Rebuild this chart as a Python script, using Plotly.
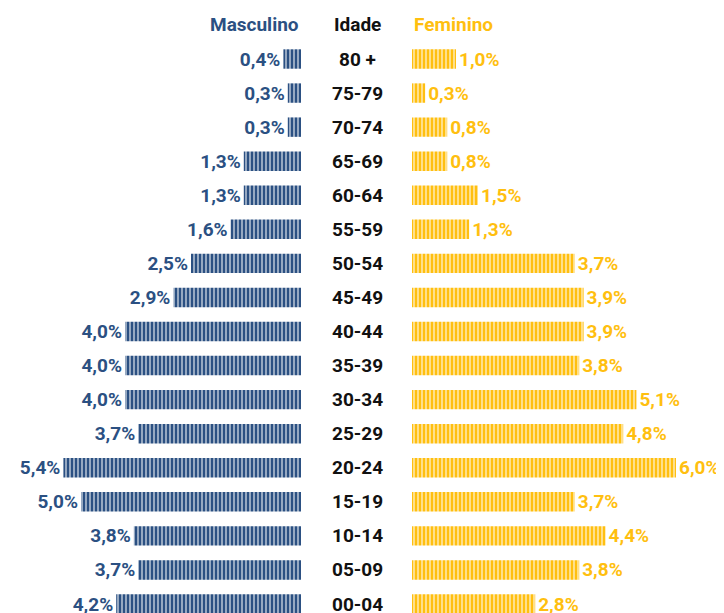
import plotly.graph_objects as go

ages = ["80 +", "75-79", "70-74", "65-69", "60-64", "55-59", "50-54", "45-49",
        "40-44", "35-39", "30-34", "25-29", "20-24", "15-19", "10-14", "05-09", "00-04"]
masculino = [0.4, 0.3, 0.3, 1.3, 1.3, 1.6, 2.5, 2.9, 4.0, 4.0, 4.0, 3.7, 5.4, 5.0, 3.8, 3.7, 4.2]
feminino = [1.0, 0.3, 0.8, 0.8, 1.5, 1.3, 3.7, 3.9, 3.9, 3.8, 5.1, 4.8, 6.0, 3.7, 4.4, 3.8, 2.8]

AZUL = "#2B5082"
AMARELO = "#FFBF10"
# the page body keeps its default 8px margin, so the figure is 8px smaller
W, H = 716, 605
PX_PER_PCT = 44.0

# row index: 0 at the bottom (00-04), 16 at the top (80 +)
pos = list(range(len(ages)))[::-1]


def pct(v):
    return "<b>" + f"{v:.1f}".replace(".", ",") + "%</b>"


def bars(values, color, xaxis):
    # solid bar with thin white vertical gaps laid over it
    return go.Bar(
        x=values,
        y=pos,
        orientation="h",
        xaxis=xaxis,
        width=0.57,
        marker=dict(
            color=color,
            line_width=0,
            pattern=dict(shape="|", size=4, solidity=0.3, fgcolor="white",
                         fgopacity=0.85, fillmode="overlay"),
        ),
        text=[pct(v) for v in values],
        textposition="outside",
        textfont=dict(family="Roboto", size=19, color=color),
        constraintext="none",
        cliponaxis=False,
        hoverinfo="skip",
    )


fig = go.Figure()
fig.add_trace(bars(masculino, AZUL, "x"))
fig.add_trace(bars(feminino, AMARELO, "x2"))

left_end = 293
right_start = 404
mid = 349
row = 34.06
y_top = 51
y_bottom = 596

fig.update_layout(
    width=W,
    height=H,
    margin=dict(l=0, r=0, t=0, b=0, autoexpand=False),
    paper_bgcolor="white",
    plot_bgcolor="white",
    showlegend=False,
    xaxis=dict(domain=[0, left_end / W], range=[left_end / PX_PER_PCT, 0], visible=False),
    xaxis2=dict(domain=[right_start / W, 1], range=[0, (W - right_start) / PX_PER_PCT],
                visible=False, anchor="y"),
    yaxis=dict(
        range=[-(H - y_bottom) / row, 16 + y_top / row],
        visible=False,
    ),
)

label_font = dict(family="Roboto", size=19, color="#111111")
for p, a in zip(pos, ages):
    fig.add_annotation(x=mid / W, xref="paper", y=p, yref="y", text=f"<b>{a}</b>",
                       showarrow=False, font=label_font, xanchor="center", yanchor="middle")

fig.add_annotation(x=left_end / W, xref="paper", y=17, yref="y", text="<b>Masculino</b>",
                   showarrow=False, xanchor="right", yanchor="middle",
                   font=dict(label_font, color=AZUL))
fig.add_annotation(x=mid / W, xref="paper", y=17, yref="y", text="<b>Idade</b>",
                   showarrow=False, xanchor="center", yanchor="middle", font=label_font)
fig.add_annotation(x=right_start / W, xref="paper", y=17, yref="y", text="<b>Feminino</b>",
                   showarrow=False, xanchor="left", yanchor="middle",
                   font=dict(label_font, color=AMARELO))

fig.write_html("out.html")
